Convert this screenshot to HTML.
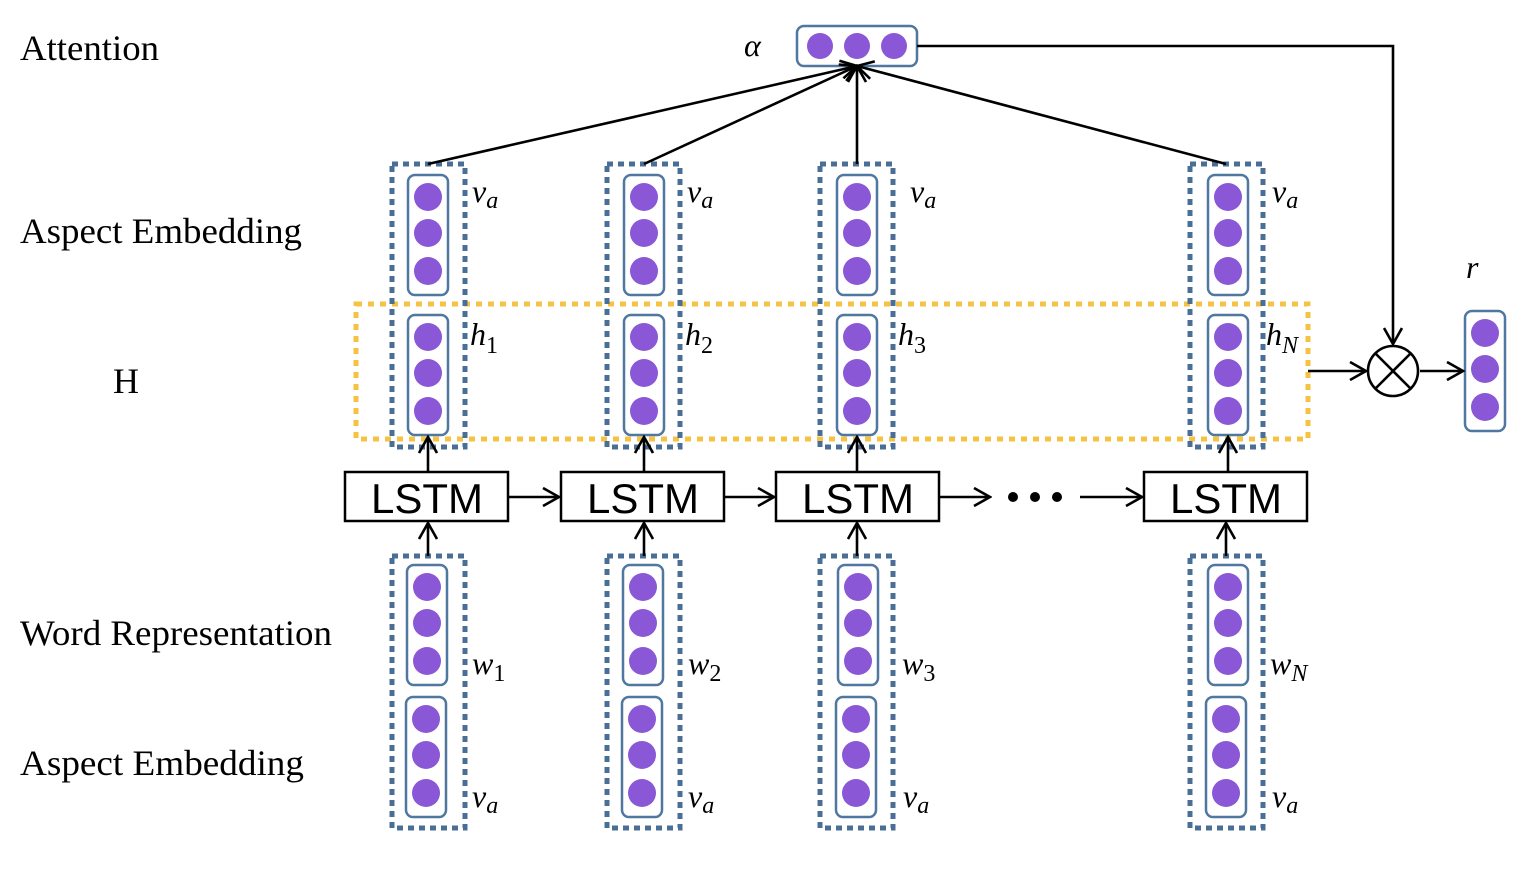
<!DOCTYPE html>
<html><head><style>body{margin:0;background:#fff}svg{display:block}</style></head><body>
<svg width="1528" height="892" viewBox="0 0 1528 892" xmlns="http://www.w3.org/2000/svg">
<defs>
<marker id="ah" viewBox="0 0 20 20" refX="18" refY="10" markerWidth="20" markerHeight="20" markerUnits="userSpaceOnUse" orient="auto">
<path d="M2,1 L18,10 L2,19" fill="none" stroke="#000" stroke-width="2.6"/></marker>
<g id="vec"><rect x="-20" y="0" width="40" height="120" rx="7" fill="#fff" stroke="#4f77a0" stroke-width="2.5"/>
<circle cx="0" cy="22" r="14" fill="#8a57d6"/><circle cx="0" cy="58" r="14" fill="#8a57d6"/><circle cx="0" cy="96" r="14" fill="#8a57d6"/></g>
</defs>
<g font-family="Liberation Serif, serif" font-size="36" fill="#000">
<text x="20" y="60" textLength="139" lengthAdjust="spacingAndGlyphs">Attention</text>
<text x="20" y="243" textLength="282" lengthAdjust="spacingAndGlyphs">Aspect Embedding</text>
<text x="113" y="393">H</text>
<text x="20" y="645" textLength="312" lengthAdjust="spacingAndGlyphs">Word Representation</text>
<text x="20" y="775" textLength="284" lengthAdjust="spacingAndGlyphs">Aspect Embedding</text>
</g>
<rect x="356" y="304" width="952" height="135" fill="none" stroke="#f6c243" stroke-width="5" stroke-dasharray="6 6"/>
<g fill="none" stroke="#4a6f97" stroke-width="5" stroke-dasharray="6 5">
<rect x="392" y="164" width="73" height="283"/><rect x="607" y="164" width="73" height="283"/>
<rect x="820" y="164" width="73" height="283"/><rect x="1190" y="164" width="73" height="283"/>
<rect x="392" y="556" width="73" height="272"/><rect x="607" y="556" width="73" height="272"/>
<rect x="820" y="556" width="73" height="272"/><rect x="1190" y="556" width="73" height="272"/>
</g>
<use href="#vec" x="428" y="175"/><use href="#vec" x="428" y="315"/>
<use href="#vec" x="644" y="175"/><use href="#vec" x="644" y="315"/>
<use href="#vec" x="857" y="175"/><use href="#vec" x="857" y="315"/>
<use href="#vec" x="1228" y="175"/><use href="#vec" x="1228" y="315"/>
<use href="#vec" x="427" y="565"/><use href="#vec" x="426" y="697"/>
<use href="#vec" x="643" y="565"/><use href="#vec" x="642" y="697"/>
<use href="#vec" x="858" y="565"/><use href="#vec" x="856" y="697"/>
<use href="#vec" x="1228" y="565"/><use href="#vec" x="1226" y="697"/>
<use href="#vec" x="1485" y="311"/>
<rect x="797" y="26" width="120" height="40" rx="7" fill="#fff" stroke="#4f77a0" stroke-width="2.5"/>
<circle cx="820" cy="46" r="13" fill="#8a57d6"/><circle cx="857" cy="46" r="13" fill="#8a57d6"/><circle cx="894" cy="46" r="13" fill="#8a57d6"/>
<g fill="#fff" stroke="#000" stroke-width="2.5">
<rect x="345" y="472" width="163" height="49"/><rect x="561" y="472" width="163" height="49"/>
<rect x="776" y="472" width="163" height="49"/><rect x="1144" y="472" width="163" height="49"/>
</g>
<g font-family="Liberation Sans, sans-serif" font-size="42" text-anchor="middle">
<text x="427" y="513">LSTM</text><text x="643" y="513">LSTM</text><text x="858" y="513">LSTM</text><text x="1226" y="513">LSTM</text>
</g>
<g stroke="#000" stroke-width="2.6" fill="none" marker-end="url(#ah)">
<line x1="428" y1="472" x2="428" y2="437"/><line x1="644" y1="472" x2="644" y2="437"/>
<line x1="857" y1="472" x2="857" y2="437"/><line x1="1228" y1="472" x2="1228" y2="437"/>
<line x1="428" y1="556" x2="428" y2="523"/><line x1="644" y1="556" x2="644" y2="523"/>
<line x1="857" y1="556" x2="857" y2="523"/><line x1="1226" y1="556" x2="1226" y2="523"/>
<line x1="508" y1="497" x2="559" y2="497"/><line x1="724" y1="497" x2="774" y2="497"/>
<line x1="939" y1="497" x2="990" y2="497"/><line x1="1080" y1="497" x2="1142" y2="497"/>
<line x1="428" y1="164" x2="857" y2="66"/><line x1="644" y1="164" x2="857" y2="66"/>
<line x1="857" y1="164" x2="857" y2="66"/><line x1="1226" y1="164" x2="857" y2="66"/>
<polyline points="917,46 1393,46 1393,344"/>
<line x1="1308" y1="371" x2="1366" y2="371"/><line x1="1420" y1="371" x2="1463" y2="371"/>
</g>
<g fill="#000"><circle cx="1013" cy="497" r="5"/><circle cx="1035" cy="497" r="5"/><circle cx="1057" cy="497" r="5"/></g>
<circle cx="1393" cy="371" r="25" fill="#fff" stroke="#000" stroke-width="2.6"/>
<g stroke="#000" stroke-width="2.6"><line x1="1375" y1="353" x2="1411" y2="389"/><line x1="1411" y1="353" x2="1375" y2="389"/></g>
<g font-family="Liberation Serif, serif" font-style="italic" font-size="32">
<text x="744" y="56">α</text><text x="1466" y="278">r</text>
<text x="472" y="202">v<tspan font-size="24" dy="6">a</tspan></text>
<text x="687" y="202">v<tspan font-size="24" dy="6">a</tspan></text>
<text x="910" y="202">v<tspan font-size="24" dy="6">a</tspan></text>
<text x="1272" y="202">v<tspan font-size="24" dy="6">a</tspan></text>
<text x="470" y="345">h<tspan font-style="normal" font-size="24" dy="8">1</tspan></text>
<text x="685" y="345">h<tspan font-style="normal" font-size="24" dy="8">2</tspan></text>
<text x="898" y="345">h<tspan font-style="normal" font-size="24" dy="8">3</tspan></text>
<text x="1266" y="345">h<tspan font-size="24" dy="8">N</tspan></text>
<text x="472" y="674">w<tspan font-style="normal" font-size="24" dy="7">1</tspan></text>
<text x="688" y="674">w<tspan font-style="normal" font-size="24" dy="7">2</tspan></text>
<text x="902" y="674">w<tspan font-style="normal" font-size="24" dy="7">3</tspan></text>
<text x="1270" y="674">w<tspan font-size="24" dy="7">N</tspan></text>
<text x="472" y="807">v<tspan font-size="24" dy="6">a</tspan></text>
<text x="688" y="807">v<tspan font-size="24" dy="6">a</tspan></text>
<text x="903" y="807">v<tspan font-size="24" dy="6">a</tspan></text>
<text x="1272" y="807">v<tspan font-size="24" dy="6">a</tspan></text>
</g>
</svg>
</body></html>
